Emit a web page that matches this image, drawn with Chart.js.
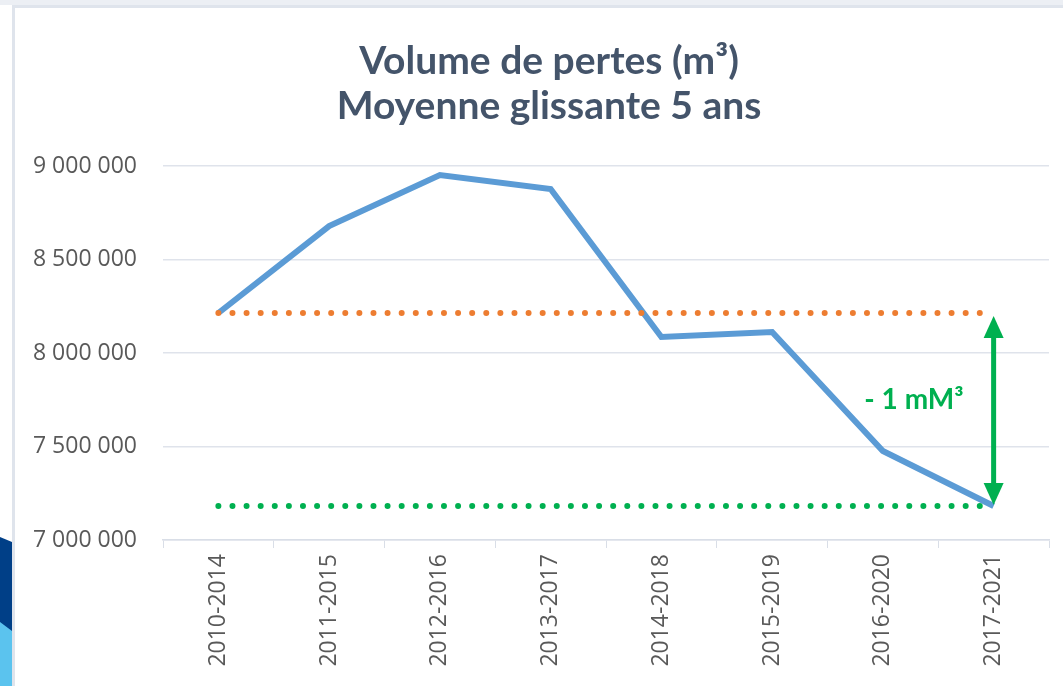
<!DOCTYPE html>
<html>
<head>
<meta charset="utf-8">
<script src="https://cdn.jsdelivr.net/npm/chart.js@4.4.1/dist/chart.umd.min.js"></script>
<style>
  html, body { margin: 0; padding: 0; background: #fff; }
  body { width: 1063px; height: 686px; position: relative; overflow: hidden; }
  #band { position: absolute; left: 0; top: 0; width: 1063px; height: 5px; background: #eceff4; }
  #frame { position: absolute; left: 12px; top: 5px; width: 1060px; height: 700px;
           border-left: 3px solid #dfe4ec; border-top: 3px solid #dfe4ec; }
  .deco { position: absolute; left: 0; width: 12px; }
  #deco1 { top: 537px; height: 149px; background: #003f87; clip-path: polygon(0 0, 100% 5px, 100% 100%, 0 100%); }
  #deco2 { top: 622px; height: 64px; background: #5bc3ee; clip-path: polygon(0 0, 100% 9px, 100% 100%, 0 100%); }
  #wrap { position: absolute; left: 0; top: 0; width: 1063px; height: 686px; }
</style>
</head>
<body>
<div id="band"></div>
<div id="frame"></div>
<div class="deco" id="deco1"></div>
<div class="deco" id="deco2"></div>
<div id="wrap"><canvas id="chartPertes"></canvas></div>
<script>
// data
const periods = ["2010-2014", "2011-2015", "2012-2016", "2013-2017", "2014-2018", "2015-2019", "2016-2020", "2017-2021"];
const volumes = [8214000, 8679000, 8952000, 8877000, 8086000, 8112000, 7476000, 7182000];
const niveauDebut = [8214000, 8214000, 8214000, 8214000, 8214000, 8214000, 8214000, 8214000];
const niveauFin = [7182000, 7182000, 7182000, 7182000, 7182000, 7182000, 7182000, 7182000];
const yMin = 7000000;
const yMax = 9000000;
const yStep = 500000;
const titleLines = ["Volume de pertes (m³)", "Moyenne glissante 5 ans"];
const ecartLabel = "- 1 mM³";

const green = "#00B050";

function fmt(v) {
  return String(v).replace(/\B(?=(\d{3})+(?!\d))/g, " ");
}

// title sits a bit right of the canvas centre in the original
const titleShift = {
  id: "titleShift",
  afterLayout(chart) {
    if (chart.titleBlock) chart.titleBlock.left += 36;
  }
};

// double arrow + label between the two dotted levels
const ecartPlugin = {
  id: "ecart",
  afterDatasetsDraw(chart) {
    const ctx = chart.ctx;
    const xs = chart.scales.x, ys = chart.scales.y;
    const last = periods.length - 1;
    const px = xs.getPixelForValue(last);
    const yTop = ys.getPixelForValue(niveauDebut[last]) + 3;
    const yBot = ys.getPixelForValue(niveauFin[last]) - 1;
    const headH = 22, headW = 10;
    ctx.save();
    ctx.fillStyle = green;
    ctx.strokeStyle = green;
    ctx.lineWidth = 5;
    ctx.beginPath();
    ctx.moveTo(px, yTop + headH - 2);
    ctx.lineTo(px, yBot - headH + 2);
    ctx.stroke();
    ctx.beginPath();
    ctx.moveTo(px, yTop);
    ctx.lineTo(px - headW, yTop + headH);
    ctx.lineTo(px + headW, yTop + headH);
    ctx.closePath();
    ctx.fill();
    ctx.beginPath();
    ctx.moveTo(px, yBot);
    ctx.lineTo(px - headW, yBot - headH);
    ctx.lineTo(px + headW, yBot - headH);
    ctx.closePath();
    ctx.fill();
    ctx.font = "bold 28px Lato";
    ctx.textAlign = "right";
    ctx.textBaseline = "middle";
    ctx.fillText(ecartLabel, px - 30, (yTop + yBot) / 2 - 11);
    ctx.restore();
  }
};

const data = {
  labels: periods,
  datasets: [
    {
      label: "Volume de pertes",
      data: volumes,
      borderColor: "#5B9BD5",
      backgroundColor: "#5B9BD5",
      borderWidth: 6,
      pointRadius: 0,
      tension: 0,
      order: 2
    },
    {
      label: "Niveau 2010-2014",
      data: niveauDebut,
      borderColor: "#ED7D31",
      borderWidth: 6,
      borderDash: [0, 14.1],
      borderCapStyle: "round",
      pointRadius: 0,
      order: 1
    },
    {
      label: "Niveau 2017-2021",
      data: niveauFin,
      borderColor: green,
      borderWidth: 6,
      borderDash: [0, 14.1],
      borderCapStyle: "round",
      pointRadius: 0,
      order: 1
    }
  ]
};

const config = {
  type: "line",
  data,
  options: {
    responsive: false,
    animation: false,
    layout: { padding: { left: 13, right: 14, top: 7, bottom: 0 } },
    plugins: {
      legend: { display: false },
      tooltip: { enabled: false },
      title: {
        display: true,
        text: titleLines,
        color: "#44546A",
        font: { family: "Lato", size: 39, weight: "bold", lineHeight: 1.154 },
        padding: { top: 32, bottom: 37 }
      }
    },
    scales: {
      x: {
        offset: true,
        grid: { drawOnChartArea: false, drawTicks: true, tickLength: 8, color: "#d9dee7", offset: true },
        border: { color: "#d9dee7", width: 1.5 },
        ticks: { color: "#595959", font: { family: "Open Sans", size: 23 }, minRotation: 90, maxRotation: 90, padding: 6, autoSkip: false },
        afterFit(scale) { scale.height = 146; }
      },
      y: {
        min: yMin,
        max: yMax,
        grid: { color: "#dfe3eb", lineWidth: 1.5, drawTicks: false },
        border: { display: false },
        ticks: { stepSize: yStep, color: "#595959", font: { family: "Open Sans", size: 23 }, padding: 26, callback: v => fmt(v) },
        afterFit(scale) { scale.width = 150; }
      }
    }
  },
  plugins: [titleShift, ecartPlugin]
};

const canvas = document.getElementById("chartPertes");
canvas.width = 1063;
canvas.height = 686;
new Chart(canvas, config);
</script>
</body>
</html>
